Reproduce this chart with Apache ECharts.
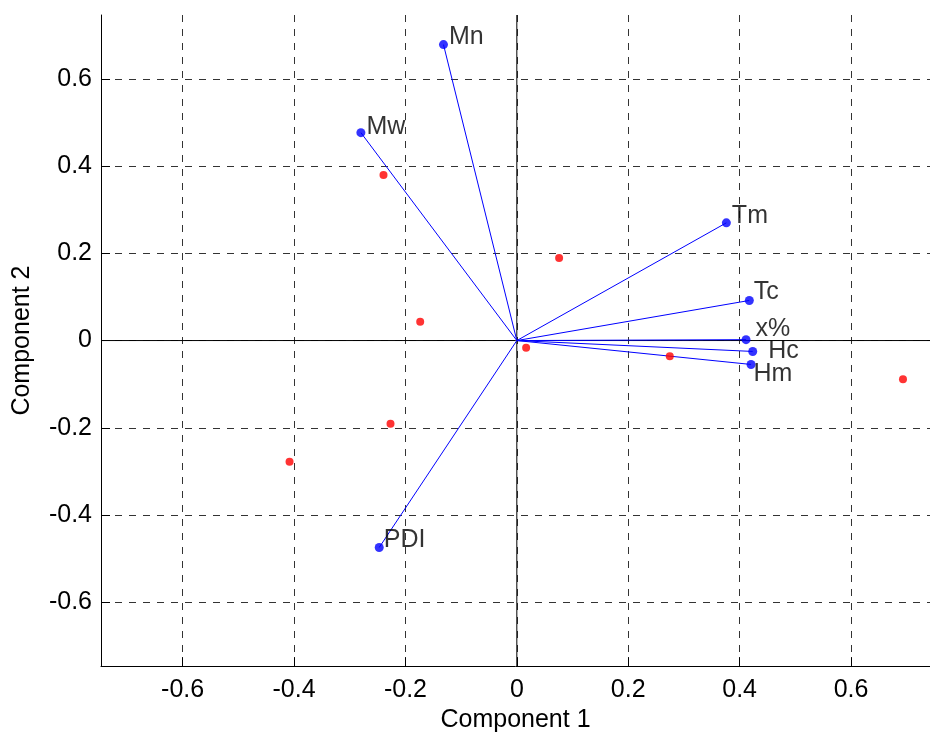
<!DOCTYPE html>
<html>
<head>
<meta charset="utf-8">
<script src="https://cdn.jsdelivr.net/npm/echarts@6/dist/echarts.min.js"></script>
<style>html,body{margin:0;padding:0;background:#fff}#c{width:930px;height:738px}</style>
</head>
<body>
<div id="c"></div>
<script>
// Variable loadings (Component 1, Component 2)
const varNames = ['Mn', 'Mw', 'Tm', 'Tc', 'x%', 'Hc', 'Hm', 'PDI'];
const varX = [-0.1317, -0.2800, 0.3762, 0.4174, 0.4115, 0.4235, 0.4205, -0.2471];
const varY = [0.6787, 0.4768, 0.2700, 0.0919, 0.0020, -0.0250, -0.0548, -0.4746];
// Observation scores
const obsX = [-0.2394, 0.0759, -0.1735, 0.0167, 0.2746, 0.6933, -0.2268, -0.4081];
const obsY = [0.3794, 0.1894, 0.0433, -0.0167, -0.0358, -0.0890, -0.1910, -0.2777];
// Axis
const axisLimit = 0.7466;
const xVisibleMax = 0.7418; // right part of the box is cut by the picture edge
const tickValues = [-0.6, -0.4, -0.2, 0, 0.2, 0.4, 0.6];
const xTitle = 'Component 1';
const yTitle = 'Component 2';

const labelOffsets = {
  'Mn': [1, -7], 'Mw': [1, -6], 'Tm': [1, -7], 'Tc': [0, -8],
  'x%': [5, -11], 'Hc': [11, 0], 'Hm': [-2, 10], 'PDI': [0, -7]
};

const font = 'Liberation Sans, Arial, Helvetica, sans-serif';
const fmt = v => (Math.abs(v) < 1e-9 ? '0' : String(Math.round(v * 10) / 10));

const series = [];
// axes lines through origin
series.push({
  type: 'line', data: [[-axisLimit, 0], [xVisibleMax, 0]], symbol: 'none', silent: true,
  lineStyle: { color: '#000', width: 1 }, z: 3
});
series.push({
  type: 'line', data: [[0, -axisLimit], [0, axisLimit]], symbol: 'none', silent: true,
  lineStyle: { color: '#000', width: 1 }, z: 3
});
// vector lines
varNames.forEach((n, i) => {
  series.push({
    type: 'line', data: [[0, 0], [varX[i], varY[i]]], symbol: 'none', silent: true,
    lineStyle: { color: '#0000ff', width: 1 }, z: 4
  });
});
// vector endpoints with labels
series.push({
  type: 'scatter', z: 6,
  symbolSize: 9,
  itemStyle: { color: '#0000ff' },
  data: varNames.map((n, i) => ({
    value: [varX[i], varY[i]], name: n,
    label: { offset: labelOffsets[n] }
  })),
  label: {
    show: true, position: 'right', distance: 0,
    formatter: p => p.name,
    fontFamily: font, fontSize: 25, color: '#000'
  }
});
// observations
series.push({
  type: 'scatter', z: 5,
  symbolSize: 8,
  itemStyle: { color: '#ff0000' },
  data: obsX.map((x, i) => [x, obsY[i]])
});

const commonAxis = {
  type: 'value',
  axisLine: { show: true, onZero: false, lineStyle: { color: '#000', width: 1 } },
  axisTick: { show: true, inside: true, length: 9, customValues: tickValues, lineStyle: { color: '#000' } },
  axisLabel: { customValues: tickValues, formatter: fmt, fontFamily: font, fontSize: 25, color: '#000' },
  splitLine: { show: true, lineStyle: { color: '#333', type: [7, 7], width: 1 } },
  nameLocation: 'middle',
  nameTextStyle: { fontFamily: font, fontSize: 25, color: '#000' }
};

const option = {
  animation: false,
  backgroundColor: '#fff',
  grid: { left: 101, top: 15, right: 0, bottom: 67, containLabel: false },
  xAxis: Object.assign({}, commonAxis, {
    min: -axisLimit, max: xVisibleMax,
    name: xTitle, nameGap: 40,
    axisLabel: Object.assign({}, commonAxis.axisLabel, { margin: 12 })
  }),
  yAxis: Object.assign({}, commonAxis, {
    min: -axisLimit, max: axisLimit,
    name: yTitle, nameGap: 66, nameRotate: 90,
    axisLabel: Object.assign({}, commonAxis.axisLabel, { margin: 9 })
  }),
  series: series
};

const chart = echarts.init(document.getElementById('c'), null, { renderer: 'canvas' });
chart.setOption(option);
</script>
</body>
</html>
